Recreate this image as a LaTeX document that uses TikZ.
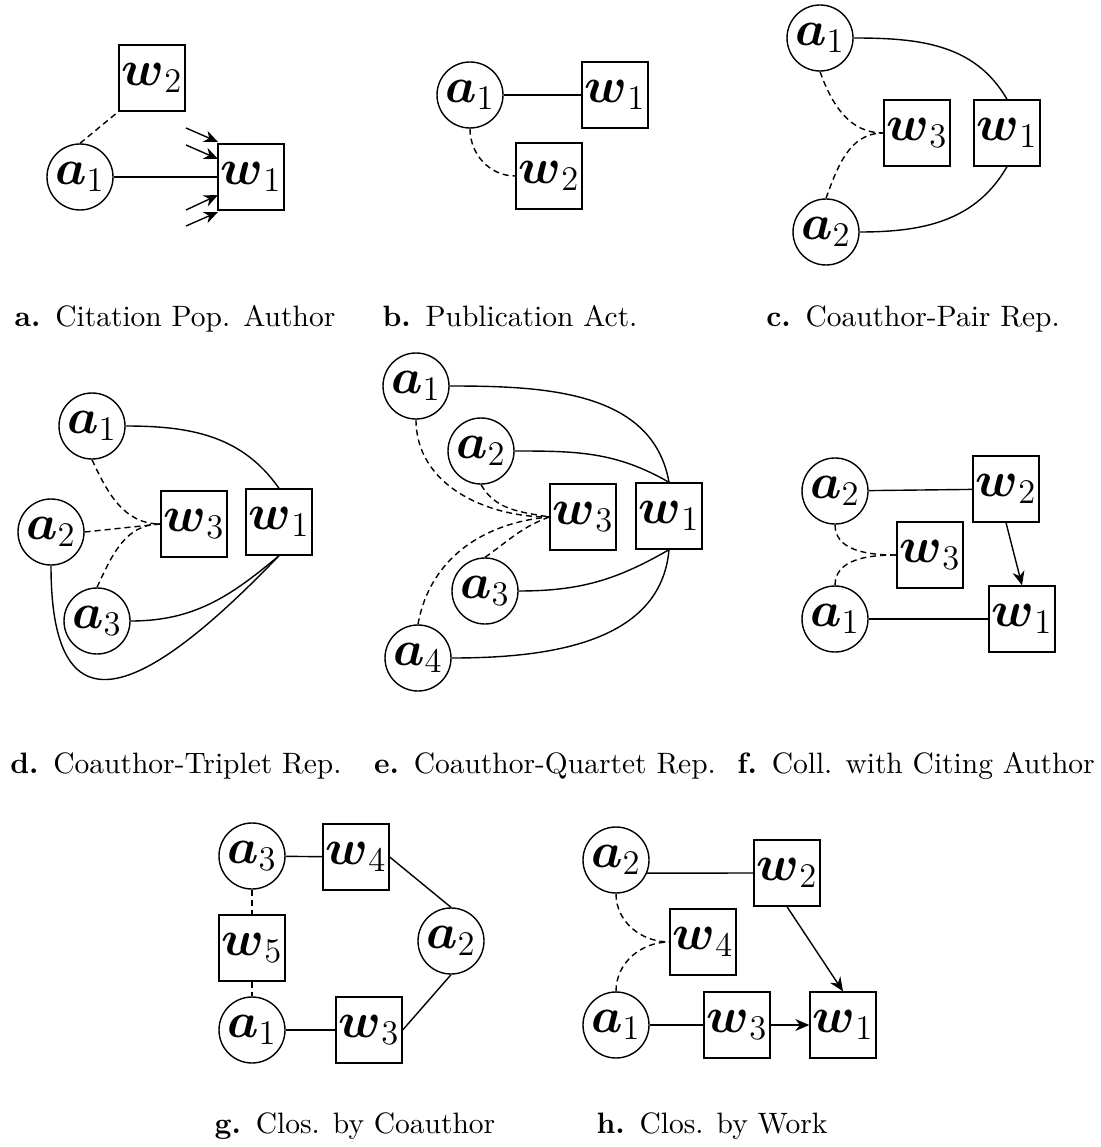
\documentclass[tikz,border=0pt]{standalone}
\usepackage{amsmath}
\usepackage{graphicx}
\usetikzlibrary{arrows.meta}
\newcommand{\A}[1]{\scalebox{2.4}{\huge$\boldsymbol{a}_{#1}$}}
\newcommand{\W}[1]{\scalebox{2.4}{\huge$\boldsymbol{w}_{#1}$}}
\newcommand{\Cap}[2]{\scalebox{2.95}{\textbf{#1}\enskip #2}}
\begin{document}
\begin{tikzpicture}[x=1pt,y=1pt,line width=1.4pt,
  author/.style={circle,draw,minimum size=66pt,inner sep=0pt},
  work/.style={rectangle,draw,minimum size=66pt,inner sep=0pt},
  dsh/.style={dash pattern=on 6pt off 4pt},
  arr/.style={-{Stealth[length=14pt,width=12pt]}},
  captext/.style={anchor=base,inner sep=0pt}]
\useasboundingbox (0,0) rectangle (1100,-1147);

% ---------- a ----------
\node[author] (aA1) at (80,-177) {\A1};
\node[work] (aW1) at (251,-177) {\W1};
\node[work] (aW2) at (152,-78) {\W2};
\draw (aA1) -- (aW1);
\draw[dsh] (aA1.north) -- (aW2.south west);
\coordinate (aS1) at (186,-128); \coordinate (aT1) at (218,-142);
\coordinate (aS2) at (186,-145); \coordinate (aT2) at (218,-159);
\coordinate (aS3) at (186,-210); \coordinate (aT3) at (218,-195);
\coordinate (aS4) at (186,-226); \coordinate (aT4) at (218,-212);
\draw[arr] (aS1) -- (aT1);
\draw[arr] (aS2) -- (aT2);
\draw[arr] (aS3) -- (aT3);
\draw[arr] (aS4) -- (aT4);
\node[captext] (capA) at (175,-326) {\Cap{a.}{Citation Pop. Author}};

% ---------- b ----------
\node[author] (bA1) at (470,-95) {\A1};
\node[work] (bW1) at (615,-95) {\W1};
\node[work] (bW2) at (549,-176) {\W2};
\draw (bA1) -- (bW1);
\draw[dsh] (bA1.south) to[out=-90,in=180] (bW2.west);
\node[captext] (capB) at (510,-326) {\Cap{b.}{Publication Act.}};

% ---------- c ----------
\node[author] (cA1) at (820,-38) {\A1};
\node[work] (cW3) at (917,-133) {\W3};
\node[work] (cW1) at (1007,-133) {\W1};
\node[author] (cA2) at (826,-232) {\A2};
\draw (cA1.east) to[out=0,in=120] (cW1.north);
\draw (cA2.east) to[out=0,in=-120] (cW1.south);
\draw[dsh] (cA1.south) to[out=-70,in=180] (cW3.west);
\draw[dsh] (cA2.north) to[out=70,in=180] (cW3.west);
\node[captext] (capC) at (913,-326) {\Cap{c.}{Coauthor-Pair Rep.}};

% ---------- d ----------
\node[author] (dA1) at (92,-426) {\A1};
\node[author] (dA2) at (51,-532) {\A2};
\node[author] (dA3) at (97,-621) {\A3};
\node[work] (dW3) at (194,-524) {\W3};
\node[work] (dW1) at (279,-522) {\W1};
\draw (dA1.east) to[out=0,in=125] (dW1.north);
\draw (dA3.east) to[out=0,in=-140] (dW1.south);
\draw (dA2.south) .. controls (51,-745) and (150,-690) .. (dW1.south);
\draw[dsh] (dA1.south) to[out=-65,in=180] (dW3.west);
\draw[dsh] (dA2.east) -- (dW3.west);
\draw[dsh] (dA3.north) to[out=65,in=180] (dW3.west);
\node[captext] (capD) at (176,-773) {\Cap{d.}{Coauthor-Triplet Rep.}};

% ---------- e ----------
\node[author] (eA1) at (416,-386) {\A1};
\node[author] (eA2) at (481,-451) {\A2};
\node[work] (eW3) at (583,-517) {\W3};
\node[work] (eW1) at (669,-516) {\W1};
\node[author] (eA3) at (485,-591) {\A3};
\node[author] (eA4) at (418,-658) {\A4};
\draw (eA1.east) to[out=0,in=100] (eW1.north);
\draw (eA2.east) to[out=0,in=150] (eW1.north);
\draw (eA3.east) to[out=0,in=-150] (eW1.south);
\draw (eA4.east) to[out=0,in=-95] (eW1.south);
\draw[dsh] (eA1.south) to[out=-90,in=180] (eW3.west);
\draw[dsh] (eA2.south) to[out=-60,in=170] (eW3.west);
\draw[dsh] (eA3.north) to[out=35,in=200] (eW3.west);
\draw[dsh] (eA4.north) to[out=80,in=185] (eW3.west);
\node[captext] (capE) at (545,-773) {\Cap{e.}{Coauthor-Quartet Rep.}};

% ---------- f ----------
\node[author] (fA2) at (835,-491) {\A2};
\node[work] (fW2) at (1006,-489) {\W2};
\node[work] (fW3) at (930,-555) {\W3};
\node[author] (fA1) at (835,-619) {\A1};
\node[work] (fW1) at (1022,-619) {\W1};
\draw (fA2) -- (fW2);
\draw (fA1) -- (fW1);
\draw[arr] (fW2.south) -- (fW1.north);
\draw[dsh] (fA2.south) to[out=-90,in=180] (fW3.west);
\draw[dsh] (fA1.north) to[out=90,in=180] (fW3.west);
\node[captext] (capF) at (916,-773) {\Cap{f.}{Coll. with Citing Author}};

% ---------- g ----------
\node[author] (gA3) at (252,-856) {\A3};
\node[work] (gW4) at (356,-857) {\W4};
\node[work] (gW5) at (252,-948) {\W5};
\node[author] (gA2) at (451,-941) {\A2};
\node[author] (gA1) at (252,-1030) {\A1};
\node[work] (gW3) at (369,-1030) {\W3};
\draw (gA3) -- (gW4);
\draw[dsh] (gA3) -- (gW5);
\draw[dsh] (gW5) -- (gA1);
\draw (gW4.east) -- (gA2.north);
\draw (gA2.south) -- (gW3.east);
\draw (gA1) -- (gW3);
\node[captext] (capG) at (355,-1133) {\Cap{g.}{Clos. by Coauthor}};

% ---------- h ----------
\node[author] (hA2) at (616,-860) {\A2};
\node[work] (hW2) at (787,-873) {\W2};
\node[work] (hW4) at (703,-942) {\W4};
\node[author] (hA1) at (616,-1025) {\A1};
\node[work] (hW3) at (737,-1025) {\W3};
\node[work] (hW1) at (843,-1025) {\W1};
\draw (hA2.-23) -- (hW2.west);
\draw (hA1) -- (hW3);
\draw[arr] (hW3) -- (hW1);
\draw[arr] (hW2.south) -- (hW1.north);
\draw[dsh] (hA2.south) to[out=-90,in=180] (hW4.west);
\draw[dsh] (hA1.north) to[out=90,in=180] (hW4.west);
\node[captext] (capH) at (712,-1133) {\Cap{h.}{Clos. by Work}};
\end{tikzpicture}
\end{document}
